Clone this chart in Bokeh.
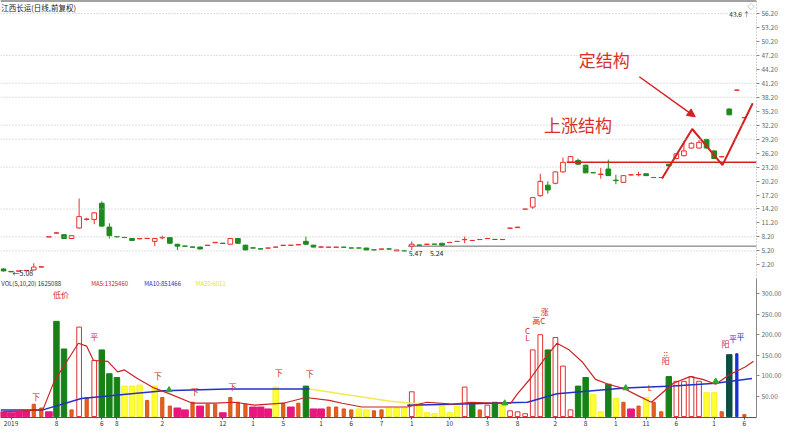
from bokeh.plotting import figure
from bokeh.models import (ColumnDataSource, Span, Arrow, NormalHead, Label, Range1d,
                          FixedTicker, PrintfTickFormatter)
from bokeh.layouts import column
from bokeh.embed import file_html
from bokeh.resources import INLINE
from bokeh.core.properties import value

# ---------------- data ----------------
OPEN = [1.31, 0.80, 0.85, 0.95, 1.11, 1.72, 8.17, 9.00, 8.68, 7.86,
        10.11, 11.95, 11.95, 15.43, 10.31, 8.30, 8.10, 7.86, 7.80, 7.85,
        7.25, 8.00, 8.06, 6.63, 6.25, 6.05, 6.02, 6.35, 6.95, 6.85,
        6.63, 7.86, 6.43, 5.85, 5.65, 5.80, 6.00, 6.35, 6.38, 6.50,
        7.25, 6.43, 6.00, 5.97, 5.97, 6.00, 5.83, 5.83, 5.81, 5.42,
        5.55, 5.62, 5.20, 5.22, 6.22, 6.45, 6.60, 6.65, 6.84, 7.00,
        7.22, 7.60, 7.43, 7.63, 7.84, 7.67, 7.63, 10.05, 10.20, 14.15,
        14.61, 17.06, 19.31, 19.72, 22.17, 24.22, 24.63, 23.61, 22.00, 21.60,
        22.79, 20.40, 19.92, 21.50, 21.55, 21.76, 20.95, 20.95, 23.81, 25.04,
        25.65, 27.29, 27.29, 29.13, 26.67, 25.40, 35.67, 39.70, 33.80]
HIGH = [1.50, 0.85, 0.92, 1.00, 2.54, 1.90, 8.30, 9.20, 8.80, 8.55,
        16.45, 12.30, 13.50, 15.83, 11.13, 8.35, 8.15, 7.90, 7.90, 7.95,
        7.90, 8.50, 8.10, 6.70, 6.30, 6.10, 6.10, 6.45, 7.05, 6.90,
        7.90, 7.90, 6.50, 5.90, 5.70, 5.85, 6.05, 6.45, 6.45, 6.60,
        8.27, 6.50, 6.20, 6.05, 6.05, 6.05, 5.86, 5.86, 5.85, 5.45,
        5.63, 5.80, 5.45, 5.25, 7.25, 6.50, 6.68, 6.70, 6.90, 7.05,
        7.30, 8.27, 7.50, 7.70, 7.90, 7.70, 7.70, 10.15, 10.35, 14.25,
        16.70, 21.76, 20.13, 22.30, 25.24, 25.60, 25.00, 23.70, 22.05, 23.00,
        24.80, 21.56, 21.50, 21.60, 22.20, 21.80, 21.00, 21.00, 23.90, 26.10,
        28.72, 28.50, 29.00, 29.30, 26.80, 25.50, 35.80, 39.85, 33.90]
LOW = [0.80, 0.65, 0.80, 0.90, 1.00, 1.60, 8.10, 8.90, 7.80, 7.80,
       10.00, 11.70, 10.93, 10.40, 7.86, 8.15, 7.95, 7.40, 7.70, 7.75,
       6.22, 7.70, 6.80, 5.40, 6.15, 5.95, 5.55, 6.30, 6.90, 6.75,
       6.60, 6.80, 5.35, 5.75, 5.55, 5.75, 5.95, 6.30, 6.30, 6.45,
       6.50, 5.95, 5.80, 5.95, 5.95, 5.95, 5.78, 5.78, 5.35, 5.38,
       5.53, 5.45, 5.15, 5.18, 5.40, 6.40, 6.58, 6.60, 6.40, 6.95,
       7.20, 6.84, 7.40, 7.60, 7.80, 7.60, 7.60, 10.00, 10.15, 14.10,
       14.20, 16.80, 17.47, 19.50, 22.00, 24.10, 23.70, 21.90, 21.90, 20.70,
       21.30, 19.52, 19.90, 21.40, 21.20, 21.30, 20.90, 20.90, 23.40, 24.90,
       25.50, 27.20, 27.20, 27.20, 25.00, 25.30, 34.30, 39.65, 33.75]
CLOSE = [0.90, 0.70, 0.90, 1.00, 1.72, 1.80, 8.27, 9.09, 7.86, 8.47,
         12.56, 12.05, 13.38, 10.52, 8.47, 8.20, 8.06, 7.45, 7.85, 7.90,
         7.86, 8.10, 6.84, 6.22, 6.20, 6.00, 5.61, 6.43, 7.04, 6.80,
         7.86, 6.84, 5.40, 5.80, 5.60, 5.82, 6.02, 6.43, 6.43, 6.55,
         6.63, 6.02, 6.05, 6.02, 6.02, 5.98, 5.81, 5.81, 5.40, 5.40,
         5.61, 5.60, 5.40, 5.20, 6.63, 6.43, 6.65, 6.63, 6.43, 7.02,
         7.25, 7.65, 7.45, 7.65, 7.86, 7.65, 7.65, 10.11, 10.31, 14.20,
         16.65, 20.13, 18.29, 22.17, 24.22, 25.45, 23.81, 21.97, 21.97, 21.70,
         21.36, 20.30, 21.36, 21.56, 21.60, 21.36, 20.97, 20.97, 23.45, 26.06,
         26.67, 28.31, 28.51, 27.29, 25.04, 25.45, 34.44, 39.76, 33.83]

VOL = [11.6, 9.3, 11.6, 14.0, 30.2, 20.9, 11.6, 232.6, 165.1, 16.3,
       218.6, 46.5, 137.2, 162.8, 104.7, 95.4, 74.4, 74.4, 76.8, 39.5,
       74.4, 46.5, 25.6, 20.9, 16.3, 34.9, 25.6, 30.2, 30.2, 9.3,
       46.5, 34.9, 30.2, 23.3, 23.3, 18.6, 72.1, 32.6, 23.3, 32.6,
       74.4, 18.6, 18.6, 23.3, 23.3, 18.6, 16.3, 18.6, 16.3, 14.0,
       16.3, 20.9, 20.9, 20.9, 60.5, 32.6, 9.3, 7.0, 25.6, 9.3,
       25.6, 72.1, 30.2, 16.3, 27.9, 34.9, 32.6, 14.0, 11.6, 7.0,
       162.8, 200.0, 162.8, 193.1, 123.3, 16.3, 74.4, 95.4, 53.5, 11.6,
       79.1, 44.2, 34.9, 18.6, 25.6, 46.5, 34.9, 11.6, 97.7, 86.1,
       86.1, 97.7, 86.1, 58.2, 58.2, 11.6, 151.2, 153.5, 4.7]
VOL_KIND = list("PPPPOOPGGO" "HOHGGGYYYO" "YOOPPOPOOP" "OOOPPPYOPO" "GPPOOOOYYO"
                "OYYYHYYYYY" "YHGOHGYHHH" "HHGHHHGGYY" "GYOPOYOOGH" "HHHYYONBO")

MA5_N = [0, 5.2, 6.7, 8.3, 9.9, 11.0, 11.9, 13.8, 15.1, 16.0, 17.7, 19.9, 21.9, 25.0, 28.0,
         30.6, 33.2, 37.0, 40.0, 43.1, 44.8, 47.4, 53.4, 56.0, 59.4, 61.9, 64.5, 67.1, 68.0,
         69.7, 71.5, 73.2, 74.8, 76.6, 78.3, 80.0, 82.2, 83.9, 85.7, 87.0, 88.6, 90.8, 92.5,
         94.2, 96.0, 98.1, 99.2]
MA5_V = [11.6, 16.3, 86.0, 132.6, 179.0, 172.0, 137.0, 135.0, 109.0, 114.0, 93.0, 70.0, 56.0,
         32.6, 32.6, 34.9, 27.9, 32.6, 46.5, 39.5, 32.6, 23.3, 23.3, 34.9, 30.2, 34.9, 32.6,
         32.6, 55.8, 93.0, 139.6, 179.0, 163.0, 132.6, 90.7, 79.0, 67.5, 51.2, 34.9, 55.8,
         81.4, 97.7, 90.7, 79.0, 102.0, 121.0, 135.0]
MA10A_N = [-0.4, 5.2, 10.3, 15.5, 21.2, 29.7, 40.5]
MA10A_V = [16.3, 16.3, 44.2, 53.5, 62.8, 67.5, 67.5]
MA10Y_N = [40.5, 46.1, 51.2, 55.5]
MA10Y_V = [67.5, 51.2, 37.2, 30.2]
MA10B_N = [53.4, 59.4, 64.5, 69.3, 73.2, 82.2, 88.6, 94.2, 99.0]
MA10B_V = [27.9, 30.2, 32.6, 34.9, 55.8, 69.8, 74.4, 81.4, 93.0]
MARK_N = [21.9, 66.3, 82.3, 94.2]
MARK_V = [65.0, 32.6, 69.8, 86.0]

VLBL_N = [4.3, 12.0, 20.4, 25.3, 30.3, 36.4, 40.5, 7.6, 69.3, 69.3, 70.8, 71.6, 85.5, 87.6, 87.6, 95.5, 96.5, 97.5]
VLBL_V = [36, 182, 88, 47, 61, 94, 91, 284, 179, 198, 221, 244, 58, 142, 123, 166, 178, 181]
VLBL_T = ["下", "平", "下", "下", "下", "下", "下", "低价", "L", "C", "高C", "涨", "L", "::", "阳", "阳", "平", "平"]
VLBL_C = ["#d02a20"] * 16 + ["#1a2fd0", "#1a2fd0"]

P_TICKS = [2.2, 5.2, 8.2, 11.2, 14.2, 17.2, 20.2, 23.2, 26.2, 29.2, 32.2, 35.2, 38.2,
           41.2, 44.2, 47.2, 50.2, 53.2, 56.2]
GRID_P = [5.2, 8.2, 14.2, 23.2, 29.2, 32.2, 38.2, 41.2, 47.2, 56.2]
V_TICKS = [50, 100, 150, 200, 250, 300]
XT_N = [1, 7, 13, 15, 21, 29, 33, 37, 42, 46, 50, 54, 59, 64, 68, 73, 77, 81, 85, 89, 94, 98]
XT_L = ["2019", "8", "6", "8", "2", "12", "1", "5", "1", "6", "7", "1", "10", "3", "8", "2",
        "8", "1", "11", "6", "1", "6"]

SUPPORT_P = 6.22       # grey support line
SUPPORT_N0 = 53.5
NECK_P = 24.22         # red horizontal line
NECK_N0 = 74.5
ZZ_N = [87.1, 91.1, 95.1, 99.1]
ZZ_P = [20.74, 31.38, 23.61, 36.90]
ARROW = (84.1, 42.6, 91.5, 34.0)
TXT1 = ("定结构", 76.1, 46.3)
TXT2 = ("上涨结构", 71.5, 32.4)
LOWLBL = [("5.47", 53.6, 4.8), ("5.24", 56.4, 4.8), ("←5.08", 1.2, 0.4)]
LEGEND = [(-0.3, "VOL(5,10,20) 1625088", "#333333"),
          (11.6, "MA5:1325460", "#cc2222"),
          (18.6, "MA10:851466", "#2430c8"),
          (25.4, "MA20:6011", "#e6df2a")]

X_RANGE = (-0.4, 99.6)
P_RANGE = (-0.73, 58.98)
V_RANGE = (-2.3, 337.3)

# ---------------- styling ----------------
FONT = "Noto Sans CJK SC"
RED = "#e8302e"
GREEN = "#1d8a1d"
KIND_FILL = {"G": "#178017", "Y": "#ffff33", "P": "#e8177d", "O": "#e5601c",
             "H": "#ffffff", "N": "#0e4d45", "B": "#1a2fd0"}
KIND_LINE = {"G": "#178017", "Y": "#f5f02a", "P": "#e8177d", "O": "#d8501a",
             "H": "#e03030", "N": "#0e4d45", "B": "#1a2fd0"}
KIND_W = {"G": 0.72, "Y": 0.72, "P": 0.9, "O": 0.42, "H": 0.62, "N": 0.72, "B": 0.3}

FW = 756

# ---------------- main price panel ----------------
p = figure(frame_width=FW, frame_height=278, x_range=Range1d(*X_RANGE),
           y_range=Range1d(*P_RANGE), output_backend="svg", toolbar_location=None,
           y_axis_location="right", x_axis_location=None,
           min_border_left=0, min_border_right=30, min_border_top=0, min_border_bottom=0,
           outline_line_color=None)
p.xgrid.visible = False
p.ygrid.visible = False
ax = p.yaxis[0]
ax.ticker = FixedTicker(ticks=P_TICKS)
ax.formatter = PrintfTickFormatter(format="%.2f")
ax.major_label_text_font_size = "6.5px"
ax.major_label_text_color = "#666666"
ax.major_label_text_font = FONT
ax.axis_line_color = "#aaaaaa"
ax.axis_line_dash = "1 2"
ax.major_tick_line_color = "#888888"
ax.major_tick_in = 0
ax.major_tick_out = 3
ax.minor_tick_line_color = None
ax.major_label_standoff = 2

for g in GRID_P:
    p.add_layout(Span(location=g, dimension="width", line_color="#bdbdbd",
                      line_dash="1 2", line_width=1))
p.add_layout(Span(location=P_RANGE[1], dimension="width", line_color="#444444", line_width=2))

p.segment(x0=[SUPPORT_N0], y0=[SUPPORT_P], x1=[X_RANGE[1]], y1=[SUPPORT_P],
          line_color="#666666", line_width=1)

nidx = list(range(len(OPEN)))
up = [c >= o for o, c in zip(OPEN, CLOSE)]
csrc = ColumnDataSource(dict(
    x=nidx, h=HIGH, l=LOW,
    top=[max(o, c) for o, c in zip(OPEN, CLOSE)],
    bot=[min(o, c) for o, c in zip(OPEN, CLOSE)],
    line=[RED if u else GREEN for u in up],
    fill=["#ffffff" if u else GREEN for u in up],
))
p.segment(x0="x", y0="l", x1="x", y1="h", line_color="line", line_width=1, source=csrc)
p.vbar(x="x", top="top", bottom="bot", width=0.62, fill_color="fill",
       line_color="line", line_width=1, source=csrc)

p.segment(x0=[NECK_N0], y0=[NECK_P], x1=[X_RANGE[1]], y1=[NECK_P],
          line_color="#d42020", line_width=1.5)
p.line(ZZ_N, ZZ_P, line_color="#d42020", line_width=2)
p.add_layout(Arrow(end=NormalHead(size=8, fill_color="#d42020", line_color="#d42020"),
                   x_start=ARROW[0], y_start=ARROW[1], x_end=ARROW[2], y_end=ARROW[3],
                   line_color="#d42020", line_width=1.5))
for t, x, y in (TXT1, TXT2):
    p.add_layout(Label(x=x, y=y, text=t, text_font=FONT, text_font_size="17px",
                       text_color="#d8302a", text_baseline="middle", text_align="left"))
for t, x, y in LOWLBL:
    p.add_layout(Label(x=x, y=y, text=t, text_font=FONT, text_font_size="7px",
                       text_color="#222222", text_baseline="middle", text_align="left"))

p.add_layout(Label(x=X_RANGE[0] + 0.1, y=P_RANGE[1] - 1.4, text="江西长运(日线,前复权)",
                   text_font=FONT, text_font_size="7.5px", text_color="#222222",
                   text_baseline="middle"))
p.add_layout(Label(x=X_RANGE[1] - 1.2, y=P_RANGE[1] - 1.2, text="◇ 1", text_font=FONT,
                   text_font_size="7px", text_color="#555555", text_baseline="middle"))
p.add_layout(Label(x=X_RANGE[1] - 3.6, y=P_RANGE[1] - 2.9, text="43.6 ↑", text_font=FONT,
                   text_font_size="6.5px", text_color="#333333", text_baseline="middle"))

# ---------------- volume panel ----------------
v = figure(frame_width=FW, frame_height=139, x_range=p.x_range, y_range=Range1d(*V_RANGE),
           output_backend="svg", toolbar_location=None, y_axis_location="right",
           min_border_left=0, min_border_right=30, min_border_top=0, min_border_bottom=0,
           outline_line_color=None)
v.xgrid.visible = False
v.ygrid.visible = False
vy = v.yaxis[0]
vy.ticker = FixedTicker(ticks=V_TICKS)
vy.formatter = PrintfTickFormatter(format="%.2f")
vy.major_label_text_font_size = "6.5px"
vy.major_label_text_color = "#666666"
vy.major_label_text_font = FONT
vy.axis_line_color = "#888888"
vy.major_tick_line_color = "#888888"
vy.major_tick_in = 0
vy.major_tick_out = 3
vy.minor_tick_line_color = None
vy.major_label_standoff = 2
vx = v.xaxis[0]
vx.ticker = FixedTicker(ticks=XT_N)
vx.major_label_overrides = {k: s for k, s in zip(XT_N, XT_L)}
vx.major_label_text_font_size = "6.5px"
vx.major_label_text_font = FONT
vx.major_label_text_color = "#333333"
vx.axis_line_color = "#555555"
vx.major_tick_line_color = "#555555"
vx.major_tick_in = 0
vx.major_tick_out = 2
vx.minor_tick_line_color = None
vx.major_label_standoff = 1

vsrc = ColumnDataSource(dict(
    x=nidx, top=VOL,
    w=[KIND_W[k] for k in VOL_KIND],
    fill=[KIND_FILL[k] for k in VOL_KIND],
    line=[KIND_LINE[k] for k in VOL_KIND],
))
v.vbar(x="x", top="top", bottom=0, width="w", fill_color="fill", line_color="line",
       line_width=1, source=vsrc)
v.line(MA10A_N, MA10A_V, line_color="#2430c8", line_width=1.5)
v.line(MA10Y_N, MA10Y_V, line_color="#f2ea50", line_width=1.5)
v.line(MA10B_N, MA10B_V, line_color="#2430c8", line_width=1.5)
v.line(MA5_N, MA5_V, line_color="#cc2222", line_width=1.2)
v.scatter(MARK_N, MARK_V, marker="triangle", size=6, fill_color="#2ea82e", line_color="#2ea82e")
v.text(x=VLBL_N, y=VLBL_V, text=VLBL_T, text_color=VLBL_C, text_font=value(FONT),
       text_font_size="8px", text_align="center", text_baseline="bottom")

LEG_Y = 325.0
for x, t, c in LEGEND:
    v.add_layout(Label(x=x, y=LEG_Y, text=t, text_font=FONT, text_font_size="6px",
                       text_color=c, text_baseline="middle"))

layout = column(p, v, spacing=0)
open("out.html", "w").write(file_html(layout, INLINE))
